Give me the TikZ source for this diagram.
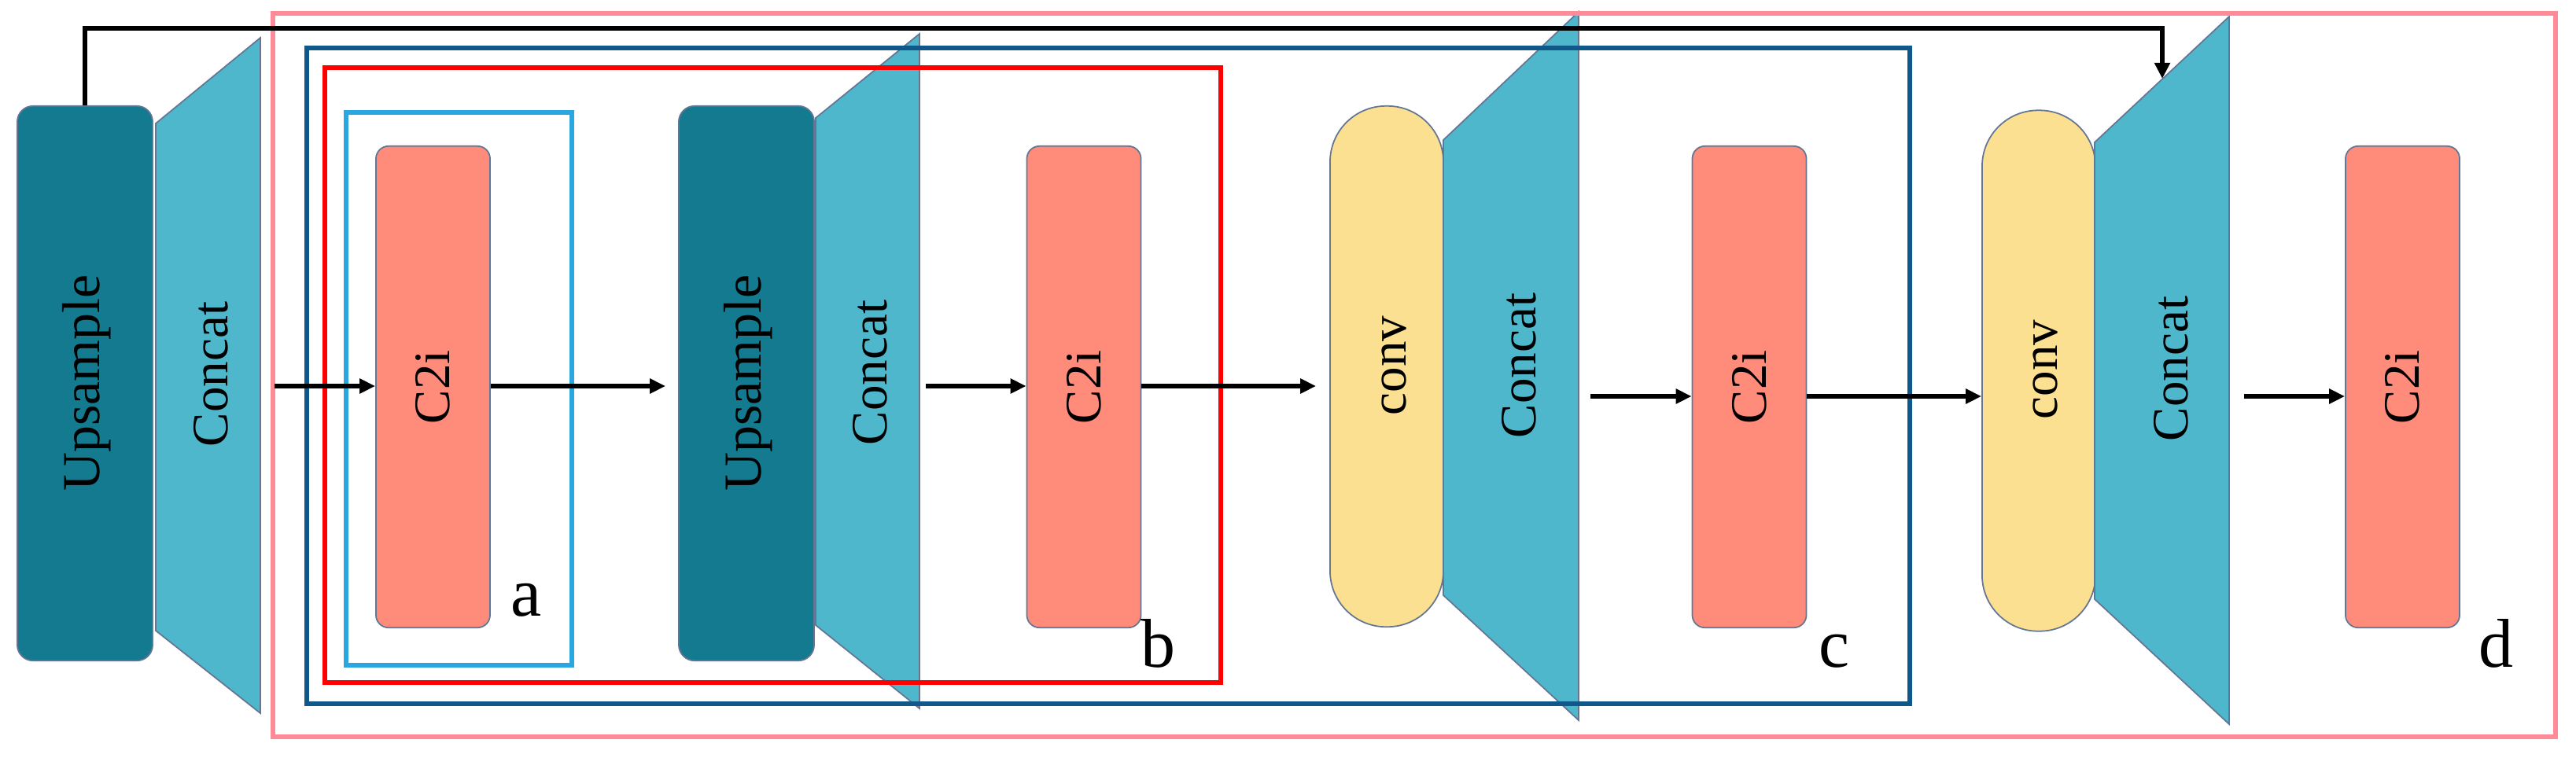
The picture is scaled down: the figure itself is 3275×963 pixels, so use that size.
\documentclass[tikz,border=0pt]{standalone}
\usepackage{fontspec}
\setmainfont{Liberation Serif}
\usetikzlibrary{arrows.meta,calc}
\definecolor{upcol}{RGB}{19,122,143}
\definecolor{concol}{RGB}{78,183,204}
\definecolor{c2icol}{RGB}{255,139,122}
\definecolor{convcol}{RGB}{252,224,145}
\definecolor{edgecol}{RGB}{100,118,148}
\definecolor{pinkbox}{RGB}{255,138,152}
\definecolor{navybox}{RGB}{16,88,138}
\definecolor{redbox}{RGB}{255,0,0}
\definecolor{lbluebox}{RGB}{42,166,224}
\tikzset{
  upbox/.style={draw=edgecol,line width=0.5pt,fill=upcol,rounded corners=0.2cm,minimum width=1.72cm,minimum height=7.05cm,inner sep=0pt},
  c2ibox/.style={draw=edgecol,line width=0.5pt,fill=c2icol,rounded corners=0.16cm,minimum width=1.45cm,minimum height=6.12cm,inner sep=0pt},
  convbox/.style={draw=edgecol,line width=0.5pt,fill=convcol,rounded corners=0.71cm,minimum width=1.44cm,minimum height=6.62cm,inner sep=0pt},
  concatshape/.style={draw=edgecol,line width=0.5pt,fill=concol},
  txt/.style={rotate=90,inner sep=0pt,font=\fontsize{18.5}{22}\selectfont},
  bigtxt/.style={txt,font=\fontsize{19.3}{23}\selectfont},
  lbl/.style={anchor=base,inner sep=0pt,font=\fontsize{25}{30}\selectfont},
  arr/.style={line width=1.7pt,-{Triangle[length=5.7pt,width=5.2pt]}},
  fb/.style={line width=1.75pt,-{Triangle[length=5.7pt,width=5.4pt]}},
  frame/.style={line width=#1}
}
\begin{document}
\begin{tikzpicture}[x=0.01cm,y=-0.01cm]
\useasboundingbox (0,0) rectangle (3275,963);
% blocks
\node[upbox] (up1) at (108,487.5) {};
\node[bigtxt] (up1t) at (110,487) {Upsample};
\draw[concatshape] (198,157) -- (331,48) -- (331,907) -- (198,802) -- cycle;
\node[txt] (cc1t) at (268,476) {Concat};
\coordinate (cc1o) at (349,491);

\node[c2ibox] (c2i1) at (550.5,492) {};
\node[txt] (c2i1t) at (c2i1) {C2i};

\node[upbox] (up2) at (949,487.5) {};
\node[bigtxt] (up2t) at (951,487) {Upsample};
\draw[concatshape] (1037,150) -- (1169,43) -- (1169,901) -- (1037,795) -- cycle;
\node[txt] (cc2t) at (1106,474) {Concat};
\coordinate (cc2o) at (1177,491);

\node[c2ibox] (c2i2) at (1378,492) {};
\node[txt] (c2i2t) at (c2i2) {C2i};

\node[convbox] (conv1) at (1763,466) {};
\node[txt] (conv1t) at (1772,465) {conv};
\draw[concatshape] (1835,178) -- (2007,15) -- (2007,916) -- (1835,757) -- cycle;
\node[txt] (cc3t) at (1931,465) {Concat};
\coordinate (cc3o) at (2022,504);

\node[c2ibox] (c2i3) at (2224,492) {};
\node[txt] (c2i3t) at (c2i3) {C2i};

\node[convbox] (conv2) at (2592,471.5) {};
\node[txt] (conv2t) at (2600,470) {conv};
\draw[concatshape] (2663,181) -- (2834,21) -- (2834,921) -- (2663,762) -- cycle;
\node[txt] (cc4t) at (2760,469) {Concat};
\coordinate (cc4o) at (2853,504);
\coordinate (fbend) at (2749,100);
\coordinate (fbtop) at (2749,36);

\node[c2ibox] (c2i4) at (3054.5,492) {};
\node[txt] (c2i4t) at (c2i4) {C2i};

% frames
\draw[frame=1.85pt,pinkbox] (347,17) rectangle (3249,937);
\draw[frame=1.85pt,navybox] (390,61) rectangle (2428,895);
\draw[frame=1.85pt,redbox] (413,86) rectangle (1552,868);
\draw[frame=1.8pt,lbluebox] (440,143) rectangle (727,846);

% labels
\node[lbl] (la) at (669,783) {a};
\node[lbl] (lb) at (1472,848) {b};
\node[lbl] (lc) at (2332,848) {c};
\node[lbl] (ld) at (3173,848) {d};

% arrows
\draw[arr] (cc1o) -- (cc1o -| c2i1.west);
\draw[arr,shorten >=0.16cm] (c2i1.east |- cc1o) -- (cc1o -| up2.west);
\draw[arr] (cc2o) -- (cc2o -| c2i2.west);
\draw[arr,shorten >=0.17cm] (c2i2.east |- cc2o) -- (cc2o -| conv1.west);
\draw[arr] (cc3o) -- (cc3o -| c2i3.west);
\draw[arr] (c2i3.east |- cc3o) -- (cc3o -| conv2.west);
\draw[arr] (cc4o) -- (cc4o -| c2i4.west);
\draw[fb] (up1.north) |- (fbtop) -- (fbend);
\end{tikzpicture}
\end{document}
